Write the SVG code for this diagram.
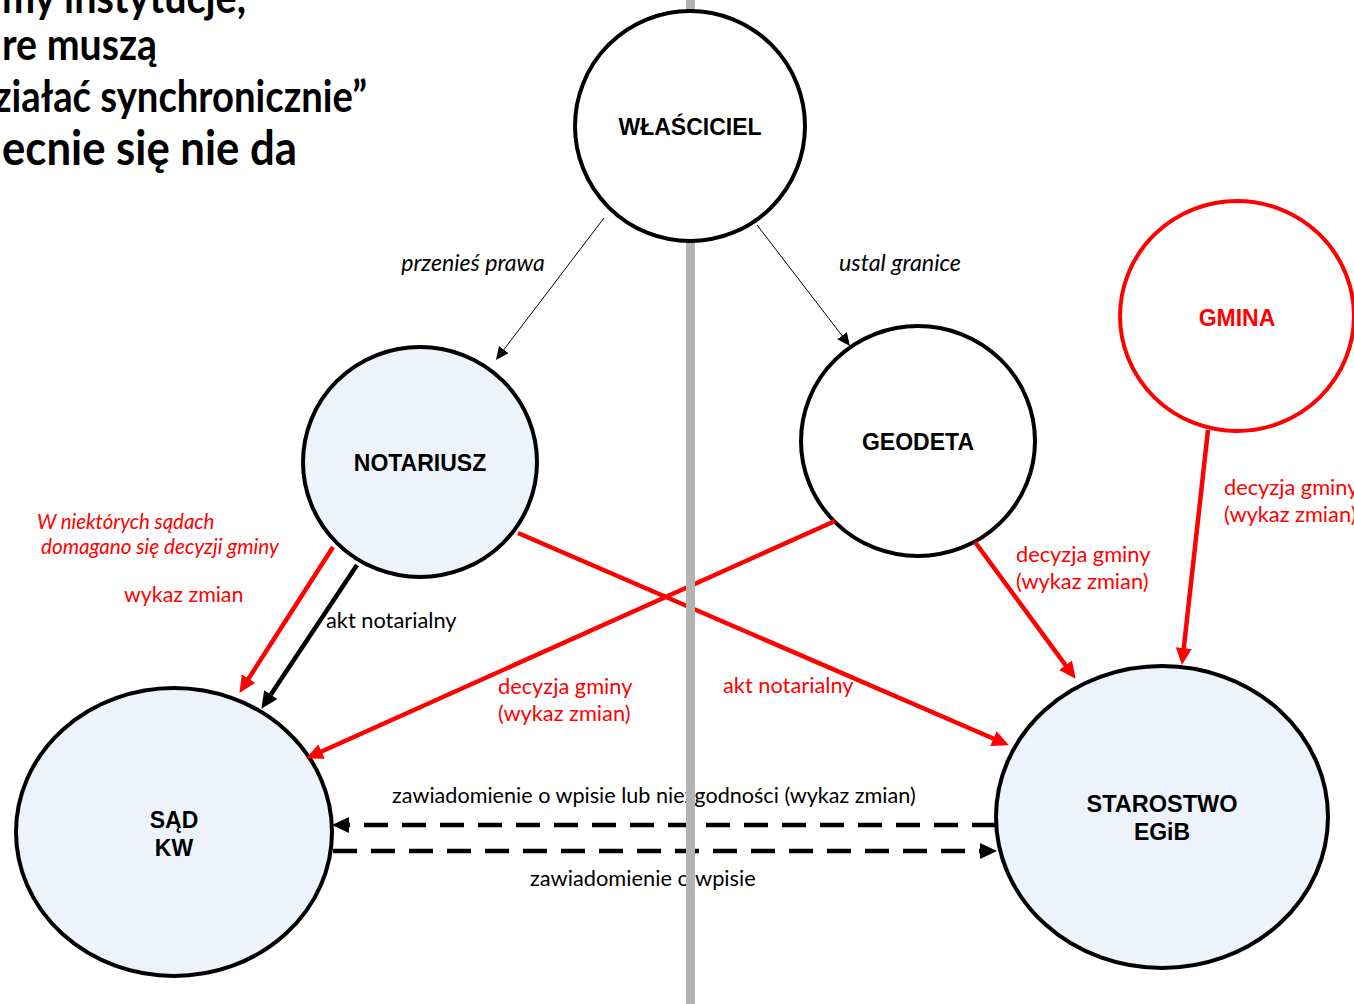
<svg xmlns="http://www.w3.org/2000/svg" width="1354" height="1004" viewBox="0 0 1354 1004">
<defs>
<style>
.title{font-family:Lato,"Liberation Sans",sans-serif;font-weight:bold;fill:#000}
.node{stroke:#000;stroke-width:4}
.blue{fill:#edf3fa}
.white{fill:#fff}
.nlabel{font-family:"Liberation Sans",Arial,sans-serif;font-weight:bold;font-size:23px;text-anchor:middle;fill:#000}
.lbl{font-family:Lato,"Open Sans",sans-serif;font-size:21.8px}
.it{font-style:italic}
.red{fill:#ff0000}
.blk{fill:#000}
.thin{stroke:#000;stroke-width:1;fill:none;marker-end:url(#ahThin)}
.rline{stroke:#ff0000;stroke-width:4.5;fill:none;marker-end:url(#ahRed)}
.bline{stroke:#000;stroke-width:4.5;fill:none;marker-end:url(#ahBlack)}
.dline{stroke:#000;stroke-width:4.5;fill:none;stroke-dasharray:24 14;marker-end:url(#ahBlack)}
</style>
<marker id="ahThin" markerUnits="userSpaceOnUse" markerWidth="14" markerHeight="14" refX="7" refY="6" orient="auto"><path d="M0,0 L13,6 L0,12 z" fill="#000"/></marker>
<marker id="ahRed" markerUnits="userSpaceOnUse" markerWidth="18" markerHeight="18" refX="8" refY="8" orient="auto"><path d="M0,0 L17,8 L0,16 z" fill="#ff0000"/></marker>
<marker id="ahBlack" markerUnits="userSpaceOnUse" markerWidth="18" markerHeight="18" refX="8" refY="8" orient="auto"><path d="M0,0 L17,8 L0,16 z" fill="#000"/></marker>
</defs>
<rect width="1354" height="1004" fill="#fff"/>

<g id="title">
<text class="title" x="2" y="13" font-size="43" textLength="244" lengthAdjust="spacingAndGlyphs">my instytucje,</text>
<text class="title" x="2" y="60" font-size="43" textLength="155" lengthAdjust="spacingAndGlyphs">re muszą</text>
<text class="title" x="-6" y="112" font-size="43" textLength="373" lengthAdjust="spacingAndGlyphs">ziałać synchronicznie”</text>
<text class="title" x="2" y="165" font-size="47" textLength="295" lengthAdjust="spacingAndGlyphs">ecnie się nie da</text>
</g>

<g id="node-notariusz"><ellipse class="node blue" cx="420" cy="462" rx="117" ry="115"/><text class="nlabel" x="420" y="471">NOTARIUSZ</text></g>
<g id="node-geodeta"><ellipse class="node white" cx="918" cy="441" rx="117" ry="115"/><text class="nlabel" x="918" y="450">GEODETA</text></g>
<g id="node-gmina"><ellipse cx="1237" cy="316" rx="117" ry="115" fill="#fff" stroke="#ff0000" stroke-width="4"/><text class="nlabel" x="1237" y="326" style="fill:#ff0000">GMINA</text></g>
<g id="node-sad"><ellipse class="node blue" cx="174" cy="832" rx="158" ry="144"/><text class="nlabel" x="174" y="828">SĄD</text><text class="nlabel" x="174" y="856">KW</text></g>
<g id="node-starostwo"><ellipse class="node blue" cx="1162" cy="817" rx="166" ry="151"/><text class="nlabel" x="1162" y="812" style="font-size:23.5px">STAROSTWO</text><text class="nlabel" x="1162" y="840">EGiB</text></g>

<g id="connectors">
<path class="thin" d="M604,218 L499.6,355.2"/>
<path class="thin" d="M757,225 L846.3,341.2"/>
<path class="rline" d="M333,547 L244.3,685.3"/>
<path class="bline" d="M357,565 L266.4,701.3"/>
<path class="rline" d="M835,521 L314.3,754.7"/>
<path class="rline" d="M518,533 L1000.7,741.8"/>
<path class="rline" d="M975,542 L1070.3,671.6"/>
<path class="rline" d="M1208,430 L1182.9,656"/>
<path class="dline" d="M996,825 L341,825"/>
<path class="dline" d="M333,851 L988,851"/>
</g>

<g id="labels">
<text class="lbl it blk" x="473" y="271" text-anchor="middle" style="font-size:23.1px">przenieś prawa</text>
<text class="lbl it blk" x="900" y="271" text-anchor="middle" style="font-size:23.3px">ustal granice</text>
<text class="lbl it red" x="37" y="529" style="font-size:20.4px">W niektórych sądach</text>
<text class="lbl it red" x="41" y="554" style="font-size:20.7px">domagano się decyzji gminy</text>
<text class="lbl red" x="124" y="602" style="font-size:21.4px">wykaz zmian</text>
<text class="lbl blk" x="326" y="628">akt notarialny</text>
<text class="lbl red" x="498" y="694">decyzja gminy</text>
<text class="lbl red" x="498" y="721">(wykaz zmian)</text>
<text class="lbl red" x="723" y="693">akt notarialny</text>
<text class="lbl red" x="1016" y="562">decyzja gminy</text>
<text class="lbl red" x="1016" y="589">(wykaz zmian)</text>
<text class="lbl red" x="1224" y="495">decyzja gminy</text>
<text class="lbl red" x="1224" y="522">(wykaz zmian)</text>
<text class="lbl blk" x="392" y="803" style="font-size:21.6px">zawiadomienie o wpisie lub niezgodności (wykaz zmian)</text>
<text class="lbl blk" x="530" y="886">zawiadomienie o wpisie</text>
</g>

<rect id="divider" x="686" y="0" width="9" height="1004" fill="#b3b3b3"/>

<g id="node-wlasciciel"><circle class="node white" cx="690" cy="126" r="115" stroke-width="2"/><text class="nlabel" x="690" y="135">WŁAŚCICIEL</text></g>
</svg>
